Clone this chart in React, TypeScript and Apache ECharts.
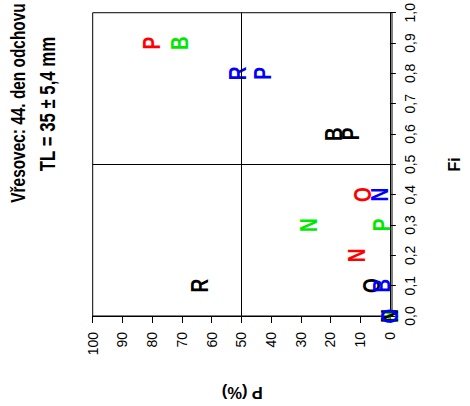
import React, { useEffect, useRef } from "react";
import * as echarts from "echarts";

const FONT = "'Liberation Sans', Arial, sans-serif";

const titleLines = ["Vřesovec: 44. den odchovu", "TL = 35 ± 5,4 mm"];
const xName = "P (%)";
const yName = "Fi";
const pTicks = [0, 10, 20, 30, 40, 50, 60, 70, 80, 90, 100];

const redLabels = ["P", "N", "O"];
const redP = [80.3, 11.1, 9.2];
const redFi = [0.9, 0.2, 0.4];

const greenLabels = ["B", "N", "P", "B"];
const greenP = [70.6, 27.4, 2.7, 0];
const greenFi = [0.9, 0.3, 0.3, 0];

const blackLabels = ["B", "P", "R", "O", "N"];
const blackP = [19.1, 13.1, 64.2, 6.3, 0];
const blackFi = [0.6, 0.6, 0.1, 0.1, 0];

const blueLabels = ["R", "P", "N", "B", "O"];
const blueP = [51.1, 42.7, 3.5, 2.7, 0];
const blueFi = [0.8, 0.8, 0.4, 0.1, 0];

const dividerP = 50;
const dividerFi = 0.5;

const STRETCH = 1.3;

function makeSeries(labels: string[], p: number[], fi: number[], color: string) {
  return {
    type: "custom",
    coordinateSystem: "cartesian2d",
    data: labels.map((_, i) => [p[i], fi[i]]),
    renderItem: (params: any, api: any) => {
      const pt = api.coord([api.value(0), api.value(1)]);
      return {
        type: "text",
        x: pt[0],
        y: pt[1],
        rotation: Math.PI / 2,
        scaleY: STRETCH,
        style: {
          text: labels[params.dataIndex],
          fill: color,
          font: `bold 19px ${FONT}`,
          align: "center",
          verticalAlign: "middle",
        },
      };
    },
    z: 3,
  };
}

export default function App() {
  const ref = useRef<HTMLDivElement>(null);
  useEffect(() => {
    if (!ref.current) return;
    const chart = echarts.init(ref.current, null, { renderer: "svg" });
    chart.setOption({
      animation: false,
      backgroundColor: "#fff",
      grid: {
        left: 92.7,
        right: 67.5,
        top: 12.5,
        bottom: 83.5,
        show: true,
        borderColor: "#000",
        borderWidth: 1,
        backgroundColor: "rgba(0,0,0,0)",
      },
      graphic: [
        {
          type: "text",
          x: 18,
          y: 103,
          rotation: Math.PI / 2,
          scaleY: STRETCH,
          style: {
            text: titleLines[0],
            font: `bold 15.4px ${FONT}`,
            fill: "#000",
            textAlign: "center",
            textVerticalAlign: "middle",
          },
        },
        {
          type: "text",
          x: 47,
          y: 104,
          rotation: Math.PI / 2,
          scaleY: STRETCH,
          style: {
            text: titleLines[1],
            font: `bold 16.8px ${FONT}`,
            fill: "#000",
            textAlign: "center",
            textVerticalAlign: "middle",
          },
        },
      ],
      xAxis: {
        type: "value",
        inverse: true,
        min: -0.7,
        max: 100,
        name: xName,
        nameLocation: "middle",
        nameGap: 68,
        nameRotate: 180,
        nameTextStyle: { fontWeight: "bold", fontSize: 16.5, fontFamily: FONT, color: "#000" },
        axisLine: { show: true, lineStyle: { color: "#000", width: 1 } },
        axisTick: { show: true, length: 7, lineStyle: { color: "#000" }, customValues: pTicks },
        axisLabel: {
          rotate: 90,
          margin: 16,
          fontSize: 14,
          fontFamily: FONT,
          color: "#000",
          customValues: pTicks,
        },
        splitLine: { show: false },
      },
      yAxis: {
        type: "value",
        position: "right",
        min: 0,
        max: 1,
        interval: 0.1,
        name: yName,
        nameLocation: "middle",
        nameGap: 54,
        nameRotate: 90,
        nameTextStyle: { fontWeight: "bold", fontSize: 16, fontFamily: FONT, color: "#000" },
        axisLine: { show: true, lineStyle: { color: "#000", width: 1 } },
        axisTick: { show: true, length: 6, lineStyle: { color: "#000" } },
        axisLabel: {
          rotate: 90,
          margin: 11,
          fontSize: 14,
          fontFamily: FONT,
          color: "#000",
          formatter: (v: number) => v.toFixed(1).replace(".", ","),
        },
        splitLine: { show: false },
      },
      series: [
        {
          type: "scatter",
          data: [],
          markLine: {
            silent: true,
            symbol: "none",
            label: { show: false },
            lineStyle: { color: "#000", width: 1, type: "solid" },
            data: [{ xAxis: dividerP }, { yAxis: dividerFi }],
          },
        },
        makeSeries(redLabels, redP, redFi, "#ff0000"),
        makeSeries(greenLabels, greenP, greenFi, "#00e800"),
        makeSeries(blackLabels, blackP, blackFi, "#000000"),
        makeSeries(blueLabels, blueP, blueFi, "#0000ff"),
      ],
    });
    return () => chart.dispose();
  }, []);
  return <div ref={ref} style={{ width: 470, height: 406, position: "absolute", left: 0, top: 0 }} />;
}
